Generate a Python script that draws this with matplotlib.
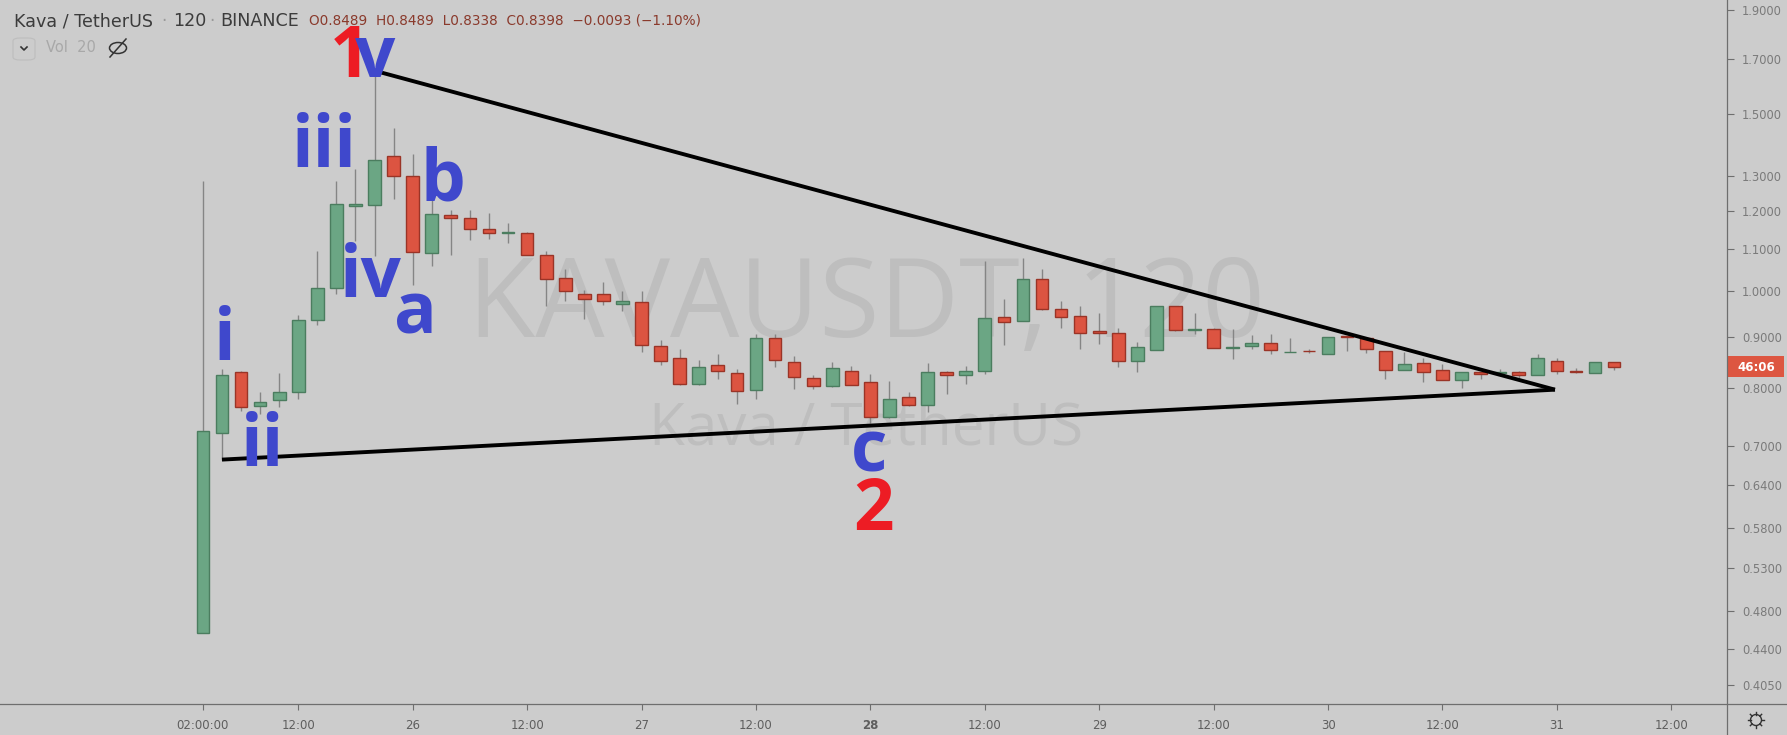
import matplotlib
matplotlib.use("Agg")
import matplotlib.pyplot as plt
from matplotlib.patches import Rectangle, Ellipse, FancyBboxPatch
from matplotlib.lines import Line2D
from matplotlib.ticker import FixedLocator, NullLocator, FuncFormatter
import numpy as np

W, H = 1787, 735

# KAVA/USDT, 2h candles starting 25th 02:00
opens = [0.456, 0.7225, 0.830, 0.768, 0.779, 0.792, 0.935, 1.005, 1.215, 1.216,
         1.362, 1.301, 1.089, 1.189, 1.182, 1.151, 1.142, 1.141, 1.086, 1.029,
         0.992, 0.992, 0.970, 0.974, 0.881, 0.856, 0.808, 0.843, 0.828, 0.796,
         0.8965, 0.8485, 0.818, 0.803, 0.832, 0.811, 0.748, 0.784, 0.770, 0.830,
         0.8247, 0.831, 0.941, 0.933, 1.026, 0.958, 0.944, 0.911, 0.907, 0.851,
         0.8728, 0.966, 0.914, 0.9151, 0.8775, 0.880, 0.887, 0.868, 0.8715, 0.8654,
         0.9012, 0.8965, 0.8708, 0.8337, 0.8466, 0.8343, 0.8148, 0.8293, 0.828, 0.8304,
         0.8247, 0.8516, 0.8323, 0.8286, 0.8489]
highs = [1.285, 0.836, 0.832, 0.793, 0.828, 0.945, 1.094, 1.285, 1.321, 1.655,
         1.452, 1.367, 1.235, 1.203, 1.203, 1.195, 1.168, 1.145, 1.095, 1.050,
         1.001, 1.020, 0.998, 1.000, 0.894, 0.874, 0.854, 0.865, 0.836, 0.905,
         0.905, 0.8615, 0.8236, 0.850, 0.841, 0.8255, 0.8135, 0.793, 0.8466, 0.8325,
         0.841, 1.071, 0.981, 1.077, 1.051, 0.977, 0.966, 0.9506, 0.9185, 0.8895,
         0.966, 0.966, 0.9506, 0.918, 0.9157, 0.903, 0.905, 0.897, 0.8755, 0.8992,
         0.9015, 0.8965, 0.871, 0.8694, 0.857, 0.845, 0.8305, 0.8295, 0.835, 0.831,
         0.8642, 0.8563, 0.837, 0.8495, 0.8489]
lows = [0.456, 0.679, 0.7595, 0.753, 0.7665, 0.781, 0.924, 0.993, 1.120, 1.082,
        1.234, 1.014, 1.058, 1.085, 1.123, 1.126, 1.115, 1.085, 0.965, 0.977,
        0.937, 0.968, 0.954, 0.869, 0.843, 0.806, 0.806, 0.817, 0.771, 0.781,
        0.840, 0.798, 0.7976, 0.802, 0.805, 0.738, 0.747, 0.768, 0.7577, 0.789,
        0.807, 0.8255, 0.883, 0.932, 0.957, 0.9185, 0.875, 0.8855, 0.840, 0.830,
        0.8728, 0.912, 0.9054, 0.8774, 0.855, 0.874, 0.864, 0.868, 0.8674, 0.8654,
        0.8708, 0.8674, 0.817, 0.833, 0.811, 0.8145, 0.8006, 0.8172, 0.8236, 0.818,
        0.824, 0.826, 0.8274, 0.8286, 0.8338]
closes = [0.725, 0.8246, 0.7665, 0.774, 0.792, 0.9355, 1.005, 1.219, 1.219, 1.350,
          1.301, 1.0915, 1.191, 1.180, 1.151, 1.140, 1.145, 1.086, 1.028, 0.999,
          0.982, 0.977, 0.977, 0.883, 0.851, 0.808, 0.839, 0.831, 0.794, 0.8965,
          0.853, 0.820, 0.8032, 0.8375, 0.806, 0.748, 0.7806, 0.7694, 0.8293, 0.8245,
          0.832, 0.9385, 0.930, 1.026, 0.958, 0.9407, 0.907, 0.907, 0.851, 0.8788,
          0.966, 0.9137, 0.9164, 0.8774, 0.8788, 0.886, 0.873, 0.869, 0.870, 0.8992,
          0.8985, 0.8742, 0.8337, 0.8447, 0.8293, 0.8148, 0.8302, 0.826, 0.829, 0.8242,
          0.8563, 0.8318, 0.8293, 0.8491, 0.8398]

tick_pos = [0, 5, 11, 17, 23, 29, 35, 41, 47, 53, 59, 65, 71, 77]
tick_labels = ["02:00:00", "12:00", "26", "12:00", "27", "12:00", "28",
               "12:00", "29", "12:00", "30", "12:00", "31", "12:00"]
price_ticks = [1.9, 1.7, 1.5, 1.3, 1.2, 1.1, 1.0, 0.9, 0.8, 0.7,
               0.64, 0.58, 0.53, 0.48, 0.44, 0.405]

# triangle drawn on top (candle index, price)
upper_x, upper_y = [9, 70.9], [1.655, 0.797]
lower_x, lower_y = [1, 70.9], [0.679, 0.797]

BLUE = "#3f48cc"
RED = "#ed1c24"
wave_labels = [
    ("i", 1.16, 0.853, BLUE), ("ii", 3.13, 0.669, BLUE), ("iii", 6.35, 1.327, BLUE),
    ("iv", 8.79, 0.985, BLUE), ("1", 7.7, 1.631, RED), ("v", 9.05, 1.631, BLUE),
    ("a", 11.12, 0.907, BLUE), ("b", 12.56, 1.229, BLUE),
    ("c", 34.93, 0.660, BLUE), ("2", 35.14, 0.578, RED),
]

BG = "#cccccc"
GREEN_FILL, GREEN_EDGE = "#6ba684", "#4b7d5f"
RED_FILL, RED_EDGE = "#dc5441", "#9a3427"
AXIS_C = "#6e6e6e"

fig = plt.figure(figsize=(W / 100, H / 100), dpi=100, facecolor=BG)
ax = fig.add_axes([0, (H - 704) / H, 1727 / W, 704 / H])
ax.set_facecolor(BG)
ax.set_yscale("log")
ax.set_ylim(0.3879, 1.946)
ax.set_xlim(-10.64, 79.92)

def fx(x):
    return x / W

def fy(y):
    return 1 - y / H

# watermark
ax.text(fx(866), fy(337), "KAVAUSDT, 120", transform=fig.transFigure, ha="center",
        va="baseline", fontsize=79, family="Open Sans", color="#bebebe", zorder=0.5)
ax.text(fx(866), fy(445), "Kava / TetherUS", transform=fig.transFigure, ha="center",
        va="baseline", fontsize=42, family="Open Sans", color="#bebebe", zorder=0.5)

# candles
bw = 0.666
for i in range(len(opens)):
    o, h, l, c = opens[i], highs[i], lows[i], closes[i]
    up = c >= o
    ax.vlines(i, l, h, color="#858585", lw=1.0, zorder=2)
    ax.bar(i, abs(c - o), bottom=min(o, c), width=bw,
           color=GREEN_FILL if up else RED_FILL,
           edgecolor=GREEN_EDGE if up else RED_EDGE, lw=1.0, zorder=3)

ax.plot(upper_x, upper_y, color="black", lw=2.8, zorder=4, solid_capstyle="butt")
ax.plot(lower_x, lower_y, color="black", lw=2.8, zorder=4, solid_capstyle="butt")

for txt, xi, p, col in wave_labels:
    ax.text(xi, p, txt, ha="center", va="baseline", fontsize=51, fontweight="bold",
            family="Open Sans", color=col, zorder=5)

# axes
for s in ax.spines.values():
    s.set_visible(False)
ax.yaxis.tick_right()
ax.yaxis.set_major_locator(FixedLocator(price_ticks))
ax.yaxis.set_minor_locator(NullLocator())
ax.yaxis.set_major_formatter(FuncFormatter(lambda v, pos: "%.4f" % v))
ax.tick_params(axis="y", which="major", length=5, width=0.8, color=AXIS_C,
               labelsize=8.3, labelcolor="#7a7a7a", pad=6)
ax.set_xticks(tick_pos, tick_labels)
ax.tick_params(axis="x", length=4, width=0.8, color=AXIS_C, labelsize=8.5,
               labelcolor="#5e5e5e", pad=7)
for lab in ax.get_xticklabels():
    if lab.get_text() == "28":
        lab.set_fontweight("bold")

fig.add_artist(Line2D([0, 1], [fy(704), fy(704)], transform=fig.transFigure,
                      color=AXIS_C, lw=0.9))
fig.add_artist(Line2D([fx(1727), fx(1727)], [0, 1], transform=fig.transFigure,
                      color=AXIS_C, lw=0.9))

# countdown box on price scale
fig.add_artist(Rectangle((fx(1727), fy(377)), fx(57), 21 / H, transform=fig.transFigure,
                         facecolor="#dd5641", edgecolor="none"))
fig.text(fx(1756), fy(367), "46:06", ha="center", va="center", color="white",
         fontsize=8.5, fontweight="bold")

# gear icon
gx, gy = 1756, 720
fig.add_artist(Ellipse((fx(gx), fy(gy)), 11 / W, 11 / H, transform=fig.transFigure,
                       fill=False, edgecolor="#333333", lw=1.0))
for ang in np.arange(0, 360, 45):
    r = np.radians(ang)
    fig.add_artist(Line2D([fx(gx + 5.5 * np.cos(r)), fx(gx + 8 * np.cos(r))],
                          [fy(gy + 5.5 * np.sin(r)), fy(gy + 8 * np.sin(r))],
                          transform=fig.transFigure, color="#333333", lw=1.0))

# header
fig.text(fx(14), fy(21), "Kava / TetherUS", ha="left", va="center", fontsize=12.6, color="#3c3c3c")
fig.text(fx(164), fy(21), "·", ha="center", va="center", fontsize=12, color="#9a9a9a")
fig.text(fx(173), fy(21), "120", ha="left", va="center", fontsize=12.6, color="#3c3c3c")
fig.text(fx(212), fy(21), "·", ha="center", va="center", fontsize=12, color="#9a9a9a")
fig.text(fx(220), fy(21), "BINANCE", ha="left", va="center", fontsize=12.6, color="#3c3c3c")
fig.text(fx(309), fy(21), "O0.8489  H0.8489  L0.8338  C0.8398  \u22120.0093 (\u22121.10%)",
         ha="left", va="center", fontsize=9.8, color="#8a3a2c")

# volume row
fig.add_artist(FancyBboxPatch((fx(13), fy(60)), fx(22), 22 / H, boxstyle="round,pad=0,rounding_size=0.004",
                              transform=fig.transFigure, fill=False, edgecolor="#bdbdbd", lw=0.8))
fig.add_artist(Line2D([fx(21), fx(24), fx(27)], [fy(47), fy(50), fy(47)],
                      transform=fig.transFigure, color="#333333", lw=1.2))
fig.text(fx(46), fy(48), "Vol  20", ha="left", va="center", fontsize=10.5, color="#a8a8a8")
fig.add_artist(Ellipse((fx(118), fy(48)), 17 / W, 11 / H, transform=fig.transFigure,
                       fill=False, edgecolor="#333333", lw=1.1))
fig.add_artist(Line2D([fx(110), fx(126)], [fy(57), fy(39)], transform=fig.transFigure,
                      color="#333333", lw=1.1))

fig.savefig("out.png", dpi=100, facecolor=BG)
